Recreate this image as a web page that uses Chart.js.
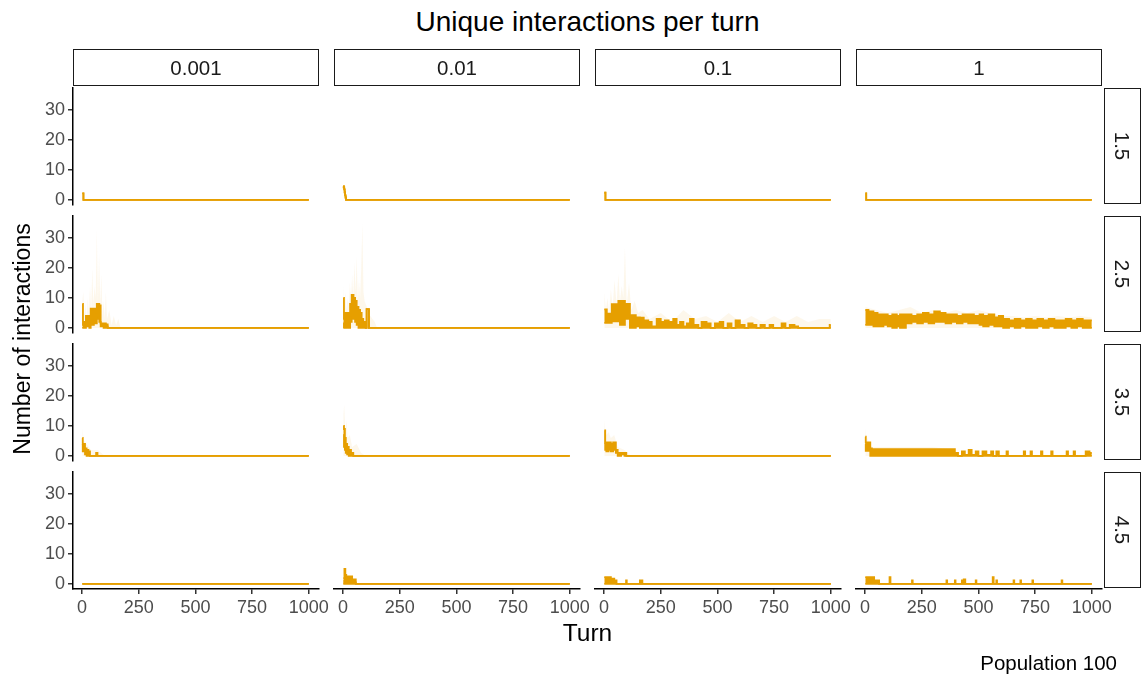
<!DOCTYPE html>
<html>
<head>
<meta charset="utf-8">
<script src="https://cdn.jsdelivr.net/npm/chart.js@4.4.1/dist/chart.umd.min.js"></script>
<style>
  body { margin: 0; background: #fff; font-family: "Liberation Sans", Arial, sans-serif; }
  #wrap { position: relative; width: 1143px; height: 678px; overflow: hidden; }
  #wrap canvas { position: absolute; }
  .txt { position: absolute; white-space: nowrap; }
  .strip { position: absolute; box-sizing: border-box; border: 1.6px solid #1a1a1a; display: flex;
           align-items: center; justify-content: center; font-size: 20.5px; color: #1a1a1a; }
  .strip.side span { display: inline-block; transform: rotate(90deg); }
</style>
</head>
<body>
<div id="wrap"></div>
<script>
// facet labels and axis ticks
const colLabels = ['0.001', '0.01', '0.1', '1'];
const rowLabels = ['1.5', '2.5', '3.5', '4.5'];
const xTicks = [0, 250, 500, 750, 1000];
const yTicks = [0, 10, 20, 30];

// series: turn, upper/lower envelope of the mean line, faint ribbon top
// row 1.5
const turn_15_0001 = [1, 5, 6, 1000];
const hi_15_0001   = [2.2, 2.2, 0, 0];
const lo_15_0001   = [2.2, 2.2, 0, 0];
const turn_15_001 = [1, 3, 5, 7, 9, 11, 13, 1000];
const hi_15_001   = [4.6, 4.2, 3.5, 2.5, 1.5, 0.8, 0, 0];
const lo_15_001   = [4.6, 4.2, 3.5, 2.5, 1.5, 0.8, 0, 0];
const turn_15_01 = [1, 5, 6, 1000];
const hi_15_01   = [2.4, 2.4, 0, 0];
const lo_15_01   = [2.4, 2.4, 0, 0];
const turn_15_1 = [1, 4, 5, 1000];
const hi_15_1   = [2.2, 2.2, 0, 0];
const lo_15_1   = [2.2, 2.2, 0, 0];

// row 2.5
const turn_25_0001 = [1, 4, 12, 17, 25, 32, 38, 45, 52, 58, 65, 70, 76, 82, 95, 105, 113, 1000];
const hi_25_0001   = [8, 1, 2, 4, 4, 3.5, 6.4, 6, 6.4, 5, 8, 8, 7.5, 1.5, 1.5, 1.2, 0, 0];
const lo_25_0001   = [0, 0, 0, 0.5, 1, 0, 2, 1, 3, 1.5, 3, 4, 2, 0.5, 0, 0.5, 0, 0];
const ribTurn_25_0001 = [1, 5, 10, 15, 20, 25, 30, 35, 40, 45, 50, 55, 60, 65, 70, 75, 80, 85, 90, 95, 100, 105, 110, 120, 130, 140, 150, 160, 170, 180];
const rib_25_0001     = [9, 12, 4, 8, 3, 10, 5, 14, 6, 20, 8, 14, 10, 33, 9, 25, 8, 18, 4, 9, 3, 12, 3, 6, 1, 4, 1, 3, 0, 0];

const turn_25_001 = [1, 4, 9, 16, 24, 31, 38, 46, 53, 60, 68, 75, 82, 89, 100, 104, 114, 1000];
const hi_25_001   = [10, 3, 5, 5, 4, 8, 11, 10, 9, 7, 6, 5, 3, 2, 0, 6.3, 0, 0];
const lo_25_001   = [0, 1.5, 0, 0.5, 0, 2, 4, 3, 2, 1, 0, 0, 0, 0, 0, 6.3, 0, 0];
const ribTurn_25_001 = [1, 5, 10, 15, 20, 25, 30, 35, 40, 45, 50, 55, 60, 65, 70, 75, 80, 85, 90, 95, 100, 110, 120, 130, 140, 150];
const rib_25_001     = [14, 8, 12, 6, 10, 7, 15, 9, 18, 10, 22, 12, 24, 9, 16, 10, 20, 35, 12, 9, 8, 6, 4, 3, 2, 0];

const turn_25_01 = [1, 12, 34, 63, 70, 92, 114, 122, 140, 158, 175, 195, 210, 232, 250, 268, 285, 305, 320, 335,
                    350, 365, 379, 395, 416, 430, 452, 470, 489, 510, 526, 545, 562, 580, 599, 620, 636, 655, 672, 690,
                    709, 730, 746, 765, 783, 800, 819, 840, 856, 995, 1000];
const hi_25_01   = [6.2, 4.8, 7.9, 9, 9, 8, 1, 4.3, 3.5, 3.4, 2.5, 2, 0.5, 3, 2, 2.5, 2, 3, 1, 2,
                    0.5, 1.5, 3, 1, 0, 2, 1.5, 0, 1.5, 2, 0, 1.5, 0, 2.5, 1, 0, 1.5, 1, 0, 1,
                    0, 1, 0, 0, 1.5, 0, 1, 0.5, 0, 1, 1];
const lo_25_01   = [1.7, 1.7, 2.2, 3, 1, 3, 0, 0, 0.5, 0, 0, 0, 0, 0, 0, 0, 0, 0, 0, 0,
                    0, 0, 0, 0, 0, 0, 0, 0, 0, 0, 0, 0, 0, 0, 0, 0, 0, 0, 0, 0,
                    0, 0, 0, 0, 0, 0, 0, 0, 0, 0, 0];
const ribTurn_25_01 = [1, 8, 15, 22, 30, 38, 46, 55, 63, 70, 78, 85, 92, 100, 110, 120, 135, 150, 170, 200,
                       250, 300, 350, 400, 450, 500, 550, 600, 650, 700, 750, 800, 850, 900, 950, 1000];
const rib_25_01     = [12, 6, 10, 5, 13, 7, 16, 8, 18, 9, 14, 10, 27, 8, 15, 6, 9, 5, 6, 3,
                       5, 2, 6, 3, 4, 2, 5, 2, 4, 2, 4, 2, 4, 2, 3, 3];

const turn_25_1 = [1, 15, 37, 55, 81, 100, 120, 140, 154, 180, 205, 230, 255, 280, 305, 330, 355, 380, 405, 430,
                   455, 480, 505, 521, 545, 570, 590, 609, 635, 660, 685, 710, 735, 760, 785, 810, 835, 860, 885, 910,
                   935, 960, 985, 1000];
const hi_25_1   = [6, 5.5, 5, 4.5, 4.5, 4, 4.5, 4, 4.5, 4.5, 4, 4.5, 5, 4.5, 5.5, 5, 4.5, 4.5, 4, 4.5,
                   4.5, 4, 4.5, 4, 4.5, 3.5, 4, 3, 2.5, 3, 2.5, 3, 2.5, 3, 2.5, 3, 2.5, 2.5, 3, 2.5,
                   3, 2.5, 2.5, 2.5];
const lo_25_1   = [1, 1, 0.5, 0.5, 1, 0.5, 0, 0.5, 0, 1.5, 2, 1.5, 2, 1.5, 2, 2, 1.5, 2, 1.5, 2,
                   1.5, 1.5, 1, 0.5, 1, 0.5, 0.5, 0, 0.5, 0, 0.5, 0, 0, 0.5, 0, 0.5, 0, 0, 0.5, 0,
                   0.5, 0, 0, 0];
const ribTurn_25_1 = [1, 50, 100, 150, 200, 250, 300, 350, 400, 450, 500, 550, 600, 650, 700, 750, 800, 850, 900, 950, 1000];
const rib_25_1     = [7, 6, 5, 6, 7, 5, 6, 5, 6, 5, 6, 5, 4, 4, 3.5, 4, 3.5, 4, 3.5, 4, 3.5];

// row 3.5
const turn_35_0001 = [1, 3, 8, 13, 20, 28, 35, 62, 68, 1000];
const hi_35_0001   = [6, 4, 4, 2.5, 2, 1.5, 0, 1, 0, 0];
const lo_35_0001   = [4, 1.5, 2, 0.5, 0, 0, 0, 0, 0, 0];
const ribTurn_35_0001 = [1, 5, 10, 20, 40, 70, 100];
const rib_35_0001     = [9, 7, 5, 4, 2, 2, 0];

const turn_35_001 = [1, 4, 8, 12, 18, 25, 35, 45, 1000];
const hi_35_001   = [10, 9, 6, 4, 3, 2, 1, 0, 0];
const lo_35_001   = [7, 3, 2, 1, 0.5, 0, 0, 0, 0];
const ribTurn_35_001 = [1, 5, 10, 15, 20, 30, 40, 60, 80, 100];
const rib_35_001     = [14, 17, 8, 12, 6, 7, 3, 4, 1, 0];

const turn_35_01 = [1, 5, 10, 20, 30, 40, 52, 60, 75, 90, 98, 1000];
const hi_35_01   = [8.5, 4.5, 4.5, 4.5, 4, 4.5, 2, 1, 1, 1, 0, 0];
const lo_35_01   = [4, 2, 1.5, 2, 1.5, 2, 1, 0, 0.5, 0, 0, 0];
const ribTurn_35_01 = [1, 5, 10, 20, 30, 45, 60, 90, 120];
const rib_35_01     = [12, 9, 7, 8, 6, 7, 3, 2, 0];

const turn_35_1 = [1, 3, 10, 18, 23, 30, 100, 200, 300, 396, 410, 427, 440, 457, 470, 488, 500, 518, 535, 556,
                   565, 579, 590, 624, 630, 700, 706, 730, 736, 776, 782, 821, 827, 889, 895, 920, 926, 973, 990, 1000];
const hi_35_1   = [6.4, 4.5, 4, 4.5, 2.5, 2.3, 2.3, 2.3, 2.3, 1, 0, 1.5, 0.3, 2, 0.3, 1.5, 0, 1.5, 0.3, 1.5,
                   0, 1.5, 0, 1.5, 0, 1.5, 0, 1.5, 0, 1.5, 0, 1.5, 0, 1.5, 0, 1.5, 0, 1.5, 1, 1];
const lo_35_1   = [4, 1.7, 1.7, 1.7, 0, 0, 0, 0, 0, 0, 0, 0, 0, 0, 0, 0, 0, 0, 0, 0,
                   0, 0, 0, 0, 0, 0, 0, 0, 0, 0, 0, 0, 0, 0, 0, 0, 0, 0, 0, 0];
const ribTurn_35_1 = [1, 5, 15, 30, 60, 100, 200, 300, 400];
const rib_35_1     = [9, 7, 5, 3, 3, 3, 3, 3, 2];

// row 4.5
const turn_45_0001 = [1, 1000];
const hi_45_0001   = [0, 0];
const lo_45_0001   = [0, 0];
const turn_45_001 = [1, 6, 10, 14, 22, 30, 40, 50, 56, 1000];
const hi_45_001   = [2, 5, 3, 2.5, 2, 2.5, 1.5, 1.5, 0, 0];
const lo_45_001   = [0, 1, 0, 0, 0, 0, 0, 0.5, 0, 0];
const turn_45_01 = [1, 30, 45, 52, 55, 97, 100, 158, 161, 166, 169, 1000];
const hi_45_01   = [2.3, 1.8, 1.2, 1.2, 0, 1.2, 0, 1.2, 0, 1.2, 0, 0];
const lo_45_01   = [0, 0, 0, 0, 0, 0, 0, 0, 0, 0, 0, 0];
const turn_45_1 = [1, 40, 62, 108, 112, 207, 210, 359, 362, 396, 399, 427, 430, 435, 442, 488, 491, 563, 567, 579,
                   582, 655, 658, 685, 688, 738, 741, 867, 870, 1000];
const hi_45_1   = [2.3, 1.2, 0, 2.3, 0, 1.2, 0, 1.2, 0, 1.2, 0, 1.2, 0, 1.5, 0, 1.2, 0, 2.3, 0, 1.2,
                   0, 1.2, 0, 1.2, 0, 1.2, 0, 1.2, 0, 0];
const lo_45_1   = [0, 0, 0, 0, 0, 0, 0, 0, 0, 0, 0, 0, 0, 0, 0, 0, 0, 0, 0, 0,
                   0, 0, 0, 0, 0, 0, 0, 0, 0, 0];

const panels = [
  [
    { turn: turn_15_0001, hi: hi_15_0001, lo: lo_15_0001 },
    { turn: turn_15_001, hi: hi_15_001, lo: lo_15_001 },
    { turn: turn_15_01, hi: hi_15_01, lo: lo_15_01 },
    { turn: turn_15_1, hi: hi_15_1, lo: lo_15_1 }
  ],
  [
    { turn: turn_25_0001, hi: hi_25_0001, lo: lo_25_0001, ribTurn: ribTurn_25_0001, rib: rib_25_0001 },
    { turn: turn_25_001, hi: hi_25_001, lo: lo_25_001, ribTurn: ribTurn_25_001, rib: rib_25_001 },
    { turn: turn_25_01, hi: hi_25_01, lo: lo_25_01, ribTurn: ribTurn_25_01, rib: rib_25_01 },
    { turn: turn_25_1, hi: hi_25_1, lo: lo_25_1, ribTurn: ribTurn_25_1, rib: rib_25_1 }
  ],
  [
    { turn: turn_35_0001, hi: hi_35_0001, lo: lo_35_0001, ribTurn: ribTurn_35_0001, rib: rib_35_0001 },
    { turn: turn_35_001, hi: hi_35_001, lo: lo_35_001, ribTurn: ribTurn_35_001, rib: rib_35_001 },
    { turn: turn_35_01, hi: hi_35_01, lo: lo_35_01, ribTurn: ribTurn_35_01, rib: rib_35_01 },
    { turn: turn_35_1, hi: hi_35_1, lo: lo_35_1, ribTurn: ribTurn_35_1, rib: rib_35_1 }
  ],
  [
    { turn: turn_45_0001, hi: hi_45_0001, lo: lo_45_0001 },
    { turn: turn_45_001, hi: hi_45_001, lo: lo_45_001 },
    { turn: turn_45_01, hi: hi_45_01, lo: lo_45_01 },
    { turn: turn_45_1, hi: hi_45_1, lo: lo_45_1 }
  ]
];

// layout
const colLeft = [73, 334, 595, 856];
const rowTop = [88, 216, 344, 472];
const PW = 246, PH = 117;
const L = 55, B = 40, R = 25, T = 16;
const orange = '#E69F00';
const FONT = '"Liberation Sans", Arial, sans-serif';

Chart.defaults.font.family = FONT;

const wrap = document.getElementById('wrap');

function addText(html, css, cls) {
  const d = document.createElement('div');
  d.className = cls || 'txt';
  d.innerHTML = html;
  Object.assign(d.style, css);
  wrap.appendChild(d);
  return d;
}

function pts(xs, ys) {
  return xs.map((t, i) => ({ x: t, y: ys[i] }));
}

function makePanel(r, c) {
  const p = panels[r][c];
  const cv = document.createElement('canvas');
  cv.width = L + PW + R;
  cv.height = T + PH + B;
  cv.style.left = (colLeft[c] - L) + 'px';
  cv.style.top = (rowTop[r] - T) + 'px';
  wrap.appendChild(cv);

  const isLeft = c === 0, isBottom = r === rowLabels.length - 1;

  const datasets = [
    { data: pts(p.turn, p.hi), borderColor: orange, backgroundColor: orange, borderWidth: 1.8,
      stepped: true, fill: '+1', pointRadius: 0, order: 1 },
    { data: pts(p.turn, p.lo), borderColor: orange, borderWidth: 1.8,
      stepped: true, fill: false, pointRadius: 0, order: 2 }
  ];
  if (p.ribTurn) {
    datasets.push({ data: pts(p.ribTurn, p.rib), borderWidth: 0, borderColor: 'rgba(0,0,0,0)',
      backgroundColor: 'rgba(230,159,0,0.08)', fill: 'origin', pointRadius: 0, order: 3 });
  }

  new Chart(cv, {
    type: 'line',
    data: { datasets },
    options: {
      responsive: false,
      animation: false,
      events: [],
      layout: { autoPadding: false, padding: { left: 0, right: R, top: T, bottom: 0 } },
      plugins: { legend: { display: false }, tooltip: { enabled: false } },
      scales: {
        x: {
          type: 'linear', min: -40, max: 1045,
          afterBuildTicks: s => { s.ticks = xTicks.map(v => ({ value: v })); },
          afterFit: s => { s.height = B; },
          ticks: { display: isBottom, color: '#4D4D4D', font: { size: 18 }, padding: 3, maxRotation: 0,
                   autoSkip: false, callback: v => String(v) },
          grid: { display: isBottom, drawOnChartArea: false, drawTicks: true, tickLength: 5, color: '#333333', lineWidth: 1.5 },
          border: { display: isBottom, color: '#000000', width: 1.5 }
        },
        y: {
          type: 'linear', min: -1.7, max: 37.4,
          afterBuildTicks: s => { s.ticks = yTicks.map(v => ({ value: v })); },
          afterFit: s => { s.width = L; },
          ticks: { display: isLeft, color: '#4D4D4D', font: { size: 18 }, padding: 3, callback: v => String(v) },
          grid: { display: isLeft, drawOnChartArea: false, drawTicks: true, tickLength: 5, color: '#333333', lineWidth: 1.5 },
          border: { display: isLeft, color: '#000000', width: 1.5 }
        }
      }
    }
  });
}

for (let r = 0; r < rowLabels.length; r++) {
  for (let c = 0; c < colLabels.length; c++) makePanel(r, c);
}

// strips
colLabels.forEach((lab, c) => {
  addText(lab, { left: colLeft[c] + 'px', top: '49px', width: PW + 'px', height: '37px' }, 'strip');
});
rowLabels.forEach((lab, r) => {
  addText('<span>' + lab + '</span>', { left: '1104px', top: rowTop[r] + 'px', width: '37px', height: (PH - 1) + 'px' }, 'strip side');
});

// titles
addText('Unique interactions per turn', { left: '73px', width: '1029px', top: '5px', height: '34px',
  lineHeight: '34px', textAlign: 'center', fontSize: '28px', color: '#000' });
addText('Turn', { left: '73px', width: '1029px', top: '618px', height: '30px',
  lineHeight: '30px', textAlign: 'center', fontSize: '24.5px', color: '#000' });
addText('Number of interactions', { left: (22 - 200) + 'px', top: (339 - 15) + 'px', width: '400px', height: '30px',
  lineHeight: '30px', textAlign: 'center', fontSize: '23px', color: '#000', transform: 'rotate(-90deg)' });
addText('Population 100', { left: '0px', width: '1117px', top: '651px', height: '24px',
  lineHeight: '24px', textAlign: 'right', fontSize: '20.5px', color: '#000' });
</script>
</body>
</html>
